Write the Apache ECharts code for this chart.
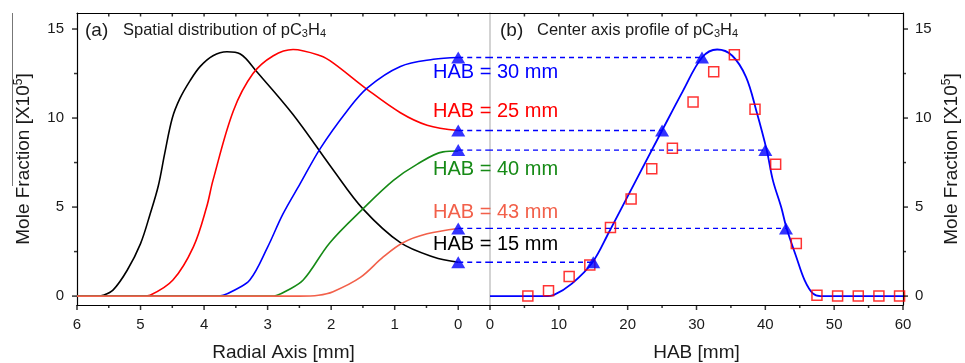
<!DOCTYPE html>
<html>
<head>
<meta charset="utf-8">
<script src="https://cdn.jsdelivr.net/npm/echarts@6/dist/echarts.min.js"></script>
<style>html,body{margin:0;padding:0;background:#fff;}#c{width:965px;height:363px;}</style>
</head>
<body>
<div id="c"></div>
<script>
// ---------- DATA ----------
// Panel (a): radial profiles [radial mm, mole fraction x1e5]
const radialHab15 = [[6,0],[5.7,0],[5.59,0.05],[5.43,0.35],[5.21,1.45],[5.0,2.95],[4.85,4.6],[4.72,6.2],[4.62,8.0],[4.5,10.0],[4.38,11.1],[4.22,12.1],[4.06,12.9],[3.86,13.5],[3.64,13.72],[3.43,13.6],[3.17,12.6],[2.6,10.2],[1.97,7.1],[1.5,4.9],[0.91,3.0],[0.39,2.2],[0,1.9]];
const radialHab25 = [[6,0],[4.95,0],[4.85,0.05],[4.49,0.9],[4.17,2.75],[3.96,5.0],[3.86,6.5],[3.54,10.4],[3.23,12.5],[2.91,13.5],[2.6,13.85],[2.17,13.5],[1.97,13.1],[1.43,11.6],[0.91,10.3],[0.49,9.6],[0,9.3]];
const radialHab30 = [[6,0],[3.85,0],[3.7,0.05],[3.54,0.3],[3.28,0.9],[3.0,2.75],[2.76,4.6],[2.49,6.3],[2.17,8.3],[1.75,10.4],[1.43,11.7],[0.91,12.9],[0.39,13.3],[0,13.4]];
const radialHab40 = [[6,0],[2.95,0],[2.85,0.05],[2.7,0.3],[2.44,0.9],[2.02,3.0],[1.5,4.9],[1.02,6.5],[0.65,7.4],[0.24,8.1],[0,8.15]];
const radialHab43 = [[6,0],[2.5,0],[2.2,0.05],[1.97,0.25],[1.54,1.05],[1.18,2.2],[0.87,3.0],[0.49,3.5],[0,3.8]];

// Centre-axis values at selected HAB (triangles)
const markHAB    = [30.8, 25, 40, 43, 15];
const markValues = [13.4, 9.3, 8.2, 3.8, 1.9];
const markLabels = ['HAB = 30 mm','HAB = 25 mm','HAB = 40 mm','HAB = 43 mm','HAB = 15 mm'];

// Panel (b): fitted centre-axis profile [HAB mm, value]
const centerFit = [[0,0],[8,0],[9.3,0.07],[11.9,0.7],[14.9,1.9],[17.3,3.6],[20,5.6],[25,9.3],[28,11.5],[30.8,13.4],[33,13.85],[35.2,13.5],[37.2,12.3],[38.7,10.4],[40.2,8.2],[41.1,6.5],[42.3,5.0],[43.1,3.8],[44.5,2.2],[45.7,0.9],[46.9,0.15],[48,0],[60,0]];
// Panel (b): measured points (open squares)
const measHAB    = [5.5,8.5,11.5,14.5,17.5,20.5,23.5,26.5,29.5,32.5,35.5,38.5,41.5,44.5,47.5,50.5,53.5,56.5,59.5];
const measValues = [0,0.3,1.1,1.75,3.85,5.45,7.15,8.3,10.9,12.6,13.55,10.5,7.4,2.95,0.05,0,0,0,0];

// Tick values
const radialMajor = [0,1,2,3,4,5,6];
const radialMinor = [0.5,1.5,2.5,3.5,4.5,5.5];
const radialTop   = [0,0.5,1,1.5,2,2.5,3,3.5,4,4.5,5,5.5];
const habMajor = [0,10,20,30,40,50,60];
const habMinor = [5,15,25,35,45,55];
const habTop   = [5,10,15,20,25,30,35,40,45,50,55];
const yMajor = [0,5,10,15];
const yMinor = [2.5,7.5,12.5];

// ---------- STYLE ----------
const FF = 'Liberation Sans, Arial, sans-serif';
const TXT = '#1a1a1a';
const cBlack='#000000', cRed='#ff0000', cBlue='#0000ff', cGreen='#168a16', cSalmon='#f2604a';
const labelColors = [cBlue, cRed, cGreen, cSalmon, cBlack];
const labelY = [73, 112, 170, 213, 245];
const Y_MIN = -0.5, Y_MAX = 15.9;

function xAx(grid, opt){
  return Object.assign({
    gridIndex: grid, type:'value', position:'bottom', splitLine:{show:false},
    axisLine:{show:true, onZero:false, lineStyle:{color:'#000', width:1.2}},
    axisTick:{show:false}, axisLabel:{show:false}
  }, opt);
}
function yAx(grid, opt){
  return Object.assign({
    gridIndex: grid, type:'value', min:Y_MIN, max:Y_MAX, position:'left', splitLine:{show:false},
    axisLine:{show:true, onZero:false, lineStyle:{color:'#000', width:1.2}},
    axisTick:{show:false}, axisLabel:{show:false}
  }, opt);
}
const yName = 'Mole Fraction [X10{sup|5}]';
const yNameStyle = {fontSize:19, fontFamily:FF, color:TXT, lineHeight:22,
  rich:{sup:{fontSize:12, fontFamily:FF, color:TXT, verticalAlign:'top', lineHeight:22}}};

const xAxes = [
  xAx(0,{min:-0.5,max:6,inverse:true,
    axisLabel:{show:true, customValues:radialMajor, margin:12, fontSize:15, color:TXT, fontFamily:FF},
    name:'Radial Axis [mm]', nameLocation:'middle', nameGap:38,
    nameTextStyle:{fontSize:19, color:TXT, fontFamily:FF}}),
  xAx(0,{min:-0.5,max:6,inverse:true,position:'top'}),
  xAx(1,{min:0,max:60,interval:10,
    axisLabel:{show:true, customValues:habMajor, margin:12, fontSize:15, color:TXT, fontFamily:FF},
    name:'HAB [mm]', nameLocation:'middle', nameGap:38,
    nameTextStyle:{fontSize:19, color:TXT, fontFamily:FF}}),
  xAx(1,{min:0,max:60,position:'top'})
];
const yAxes = [
  yAx(0,{axisLabel:{show:true, customValues:yMajor, margin:13, fontSize:15, color:TXT, fontFamily:FF},
    name:yName, nameLocation:'middle', nameRotate:90, nameGap:42, nameTextStyle:yNameStyle}),
  yAx(1,{position:'right',
    axisLabel:{show:true, customValues:yMajor, margin:12, fontSize:15, color:TXT, fontFamily:FF},
    name:yName, nameLocation:'middle', nameRotate:90, nameGap:38, nameTextStyle:yNameStyle}),
  yAx(1,{position:'left', axisLine:{show:true,onZero:false,lineStyle:{color:'#c4c4c4',width:1.5}}})
];

function curve(data, color, xi, yi, z){
  return {type:'line', data:data, xAxisIndex:xi, yAxisIndex:yi, symbol:'none', smooth:0.35,
    lineStyle:{color:color, width:1.6}, z:z||2, animation:false, silent:true};
}
// tick marks drawn as thin rect symbols placed through the axes' scales
function ticks(points, xi, yi, size, offset){
  return {type:'scatter', data:points, xAxisIndex:xi, yAxisIndex:yi, symbol:'rect',
    symbolSize:size, symbolOffset:offset, itemStyle:{color:'#000'}, clip:false, z:6,
    animation:false, silent:true};
}
const series = [
  curve(radialHab15, cBlack, 0, 0),
  curve(radialHab25, cRed, 0, 0),
  curve(radialHab30, cBlue, 0, 0),
  curve(radialHab40, cGreen, 0, 0),
  curve(radialHab43, cSalmon, 0, 0)
];
markValues.forEach((v,i)=>{
  series.push({type:'line', xAxisIndex:0, yAxisIndex:0, data:[[0,v],[-0.5,v]], symbol:'none',
    lineStyle:{color:cBlue,width:1.3,type:[5,4]}, z:3, animation:false, silent:true});
  series.push({type:'line', xAxisIndex:2, yAxisIndex:1, data:[[0,v],[markHAB[i],v]], symbol:'none',
    lineStyle:{color:cBlue,width:1.3,type:[5,4],dashOffset:2}, z:3, animation:false, silent:true});
});
series.push(curve(centerFit, cBlue, 2, 1, 2));
series[series.length-1].lineStyle.width = 1.8;
series.push({type:'scatter', xAxisIndex:2, yAxisIndex:1,
  data: measHAB.map((h,i)=>[h, measValues[i]]), symbol:'rect', symbolSize:10,
  itemStyle:{color:'rgba(0,0,0,0)', borderColor:cRed, borderWidth:1.5}, z:4, animation:false, silent:true});
series.push({type:'scatter', xAxisIndex:0, yAxisIndex:0, data: markValues.map(v=>[0,v]),
  symbol:'triangle', symbolSize:[14,12], itemStyle:{color:cBlue}, z:5, animation:false, silent:true});
series.push({type:'scatter', xAxisIndex:2, yAxisIndex:1, data: markValues.map((v,i)=>[markHAB[i],v]),
  symbol:'triangle', symbolSize:[14,12], itemStyle:{color:cBlue}, z:5, animation:false, silent:true});

// ticks panel (a)
series.push(ticks(radialMajor.map(r=>[r,Y_MIN]), 0, 0, [1.5,5], [0,2.5]));
series.push(ticks(radialMinor.map(r=>[r,Y_MIN]), 0, 0, [1.5,3], [0,1.5]));
series.push(ticks(radialTop.map(r=>[r,Y_MAX]), 0, 0, [1.5,3.5], [0,1.75]));
series.push(ticks(yMajor.map(v=>[6,v]), 0, 0, [5,1.5], [-2.5,0]));
series.push(ticks(yMinor.map(v=>[6,v]), 0, 0, [3,1.5], [-1.5,0]));
// ticks panel (b)
series.push(ticks(habMajor.map(h=>[h,Y_MIN]), 2, 1, [1.5,5], [0,2.5]));
series.push(ticks(habMinor.map(h=>[h,Y_MIN]), 2, 1, [1.5,3], [0,1.5]));
series.push(ticks(habTop.map(h=>[h,Y_MAX]), 2, 1, [1.5,3.5], [0,1.75]));
series.push(ticks(yMajor.map(v=>[60,v]), 2, 1, [5,1.5], [2.5,0]));
series.push(ticks(yMinor.map(v=>[60,v]), 2, 1, [3,1.5], [1.5,0]));

const graphics = [
  {type:'line', shape:{x1:12.5,y1:13,x2:12.5,y2:186}, style:{stroke:'#777',lineWidth:1}},
  {type:'text', left:85, top:21, style:{text:'(a)', font:'19px '+FF, fill:TXT}},
  {type:'text', left:123, top:22, style:{text:'Spatial distribution of pC{s|3}H{s|4}', font:'16.5px '+FF, fill:TXT,
    rich:{s:{fontSize:11, fontFamily:FF, fill:TXT, verticalAlign:'bottom'}}}},
  {type:'text', left:500, top:21, style:{text:'(b)', font:'19px '+FF, fill:TXT}},
  {type:'text', left:537, top:22, style:{text:'Center axis profile of pC{s|3}H{s|4}', font:'16.5px '+FF, fill:TXT,
    rich:{s:{fontSize:11, fontFamily:FF, fill:TXT, verticalAlign:'bottom'}}}}
];
markLabels.forEach((t,i)=>{
  graphics.push({type:'text', left:433, top:labelY[i]-11, style:{text:t, font:'20px '+FF, fill:labelColors[i]}, z:10});
});

const chart = echarts.init(document.getElementById('c'), null, {renderer:'canvas'});
chart.setOption({
  animation:false,
  backgroundColor:'#fff',
  grid:[
    {left:77, top:13, width:413, height:292, outerBoundsMode:'none', containLabel:false},
    {left:490, top:13, width:413, height:292, outerBoundsMode:'none', containLabel:false}
  ],
  xAxis:xAxes, yAxis:yAxes, series:series, graphic:graphics
});
</script>
</body>
</html>
